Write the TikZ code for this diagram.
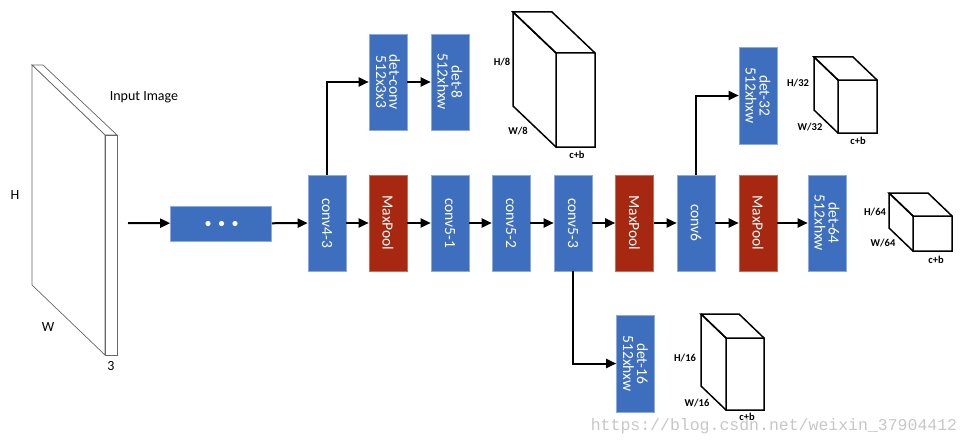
\documentclass[tikz,border=0pt]{standalone}
\usepackage{fontspec}
\setmainfont{Carlito}
\newfontfamily\wmfont{Liberation Mono}
\usetikzlibrary{arrows.meta}
\definecolor{boxblue}{RGB}{62,111,190}
\definecolor{boxred}{RGB}{166,40,16}
\definecolor{edgeblue}{RGB}{140,170,220}
\definecolor{edgered}{RGB}{200,110,90}
\newcommand\drawprism[6]{% x y w h dx dy (back top-left corner)
  \draw[prism] (#1,#2) -- ++(#3,0) -- ++(#5,#6) -- ++(0,#4) -- ++(-#3,0) -- ++(0,-#4) -- cycle;
  \draw[prism] (#1,#2) -- ++(#5,#6) -- ++(#3,0);
  \draw[prism] (#1,#2) -- ++(0,#4) -- ++(#5,#6);
}
\begin{document}
\begin{tikzpicture}[x=1pt,y=-1pt,
  blk/.style={fill=boxblue,draw=edgeblue,line width=0.6pt,minimum width=38pt,minimum height=96pt,inner sep=0pt,text=white,font=\fontsize{15.5}{15}\selectfont},
  pool/.style={blk,fill=boxred,draw=edgered},
  arr/.style={line width=2pt,-{Triangle[length=10pt,width=9pt]}},
  prism/.style={line width=1.5pt,line join=miter},
  slab/.style={draw=black!60,line width=0.7pt},
  lbl/.style={font=\fontsize{14}{14}\selectfont,inner sep=0pt},
  dim/.style={font=\bfseries\fontsize{10.5}{10.5}\selectfont,inner sep=0pt}]
\useasboundingbox (0,0) rectangle (971,444);
% input slab
\draw[slab,fill=white] (32,65) -- (43,65) -- (117,135) -- (105,135) -- cycle;
\draw[slab,fill=white] (32,65) -- (105,135) -- (105,355) -- (32,285) -- cycle;
\draw[slab,fill=white] (105,135) rectangle (117,355);
\node[lbl] (Hl) at (15,195) {H};
\node[lbl] (Wl) at (48,327) {W};
\node[lbl] (Tl) at (111,366) {3};
\node[lbl] (inl) at (144,97) {Input Image};
% main row
\coordinate (start) at (128,223);
\node[blk,minimum width=101pt,minimum height=35pt] (dots) at (221,223.5) {};
\foreach \xx in {208,221.5,235} \fill[white] (\xx,223.5) circle (2.6pt);
\node[blk] (c43) at (327,223) {\rotatebox{-90}{conv4-3}};
\node[pool] (mp1) at (388,223) {\rotatebox{-90}{MaxPool}};
\node[blk] (c51) at (450,223) {\rotatebox{-90}{conv5-1}};
\node[blk] (c52) at (511,223) {\rotatebox{-90}{conv5-2}};
\node[blk] (c53) at (573,223) {\rotatebox{-90}{conv5-3}};
\node[pool] (mp2) at (634.5,223) {\rotatebox{-90}{MaxPool}};
\node[blk] (c6) at (696,223) {\rotatebox{-90}{conv6}};
\node[pool] (mp3) at (758,223) {\rotatebox{-90}{MaxPool}};
\node[blk] (d64) at (827,223) {\rotatebox{-90}{\shortstack{det-64\\512xhxw}}};
% branches
\node[blk] (dconv) at (388,82) {\rotatebox{-90}{\shortstack{det-conv\\512x3x3}}};
\node[blk] (d8) at (450,82) {\rotatebox{-90}{\shortstack{det-8\\512xhxw}}};
\node[blk,minimum height=97pt] (d32) at (758,95.5) {\rotatebox{-90}{\shortstack{det-32\\512xhxw}}};
\node[blk,minimum height=97pt] (d16) at (635.5,363.5) {\rotatebox{-90}{\shortstack{det-16\\512xhxw}}};
% arrows
\draw[arr] (start) -- (dots);
\draw[arr] (dots) -- (c43);
\draw[arr] (c43) -- (mp1);
\draw[arr] (mp1) -- (c51);
\draw[arr] (c51) -- (c52);
\draw[arr] (c52) -- (c53);
\draw[arr] (c53) -- (mp2);
\draw[arr] (mp2) -- (c6);
\draw[arr] (c6) -- (mp3);
\draw[arr] (mp3) -- (d64);
\draw[arr] (c43.north) |- (dconv.west);
\draw[arr] (dconv) -- (d8);
\draw[arr] (c6.north) |- (d32.west);
\draw[arr] (c53.south) |- (d16.west);
% prisms
\drawprism{513}{12}{39}{94}{43}{41}
\node[dim] (h8) at (502,62) {H/8};
\node[dim] (w8) at (518,131) {W/8};
\node[dim] (cb8) at (577,155) {c+b};
\drawprism{814}{57}{39}{53}{24}{23}
\node[dim] (h32) at (798,83) {H/32};
\node[dim] (w32) at (810,127) {W/32};
\node[dim] (cb32) at (858,141) {c+b};
\drawprism{889}{193}{39}{35}{24}{23}
\node[dim] (h64) at (875,212) {H/64};
\node[dim] (w64) at (883,243) {W/64};
\node[dim] (cb64) at (936,260) {c+b};
\drawprism{701}{314}{38}{72}{25}{24}
\node[dim] (h16) at (685,358) {H/16};
\node[dim] (w16) at (697,403) {W/16};
\node[dim] (cb16) at (747,417) {c+b};
% watermark
\node[font=\wmfont\fontsize{16.5}{16.5}\selectfont,text=black!22,inner sep=0pt] (wm) at (774,426) {https://blog.csdn.net/weixin\_37904412};
\end{tikzpicture}
\end{document}
